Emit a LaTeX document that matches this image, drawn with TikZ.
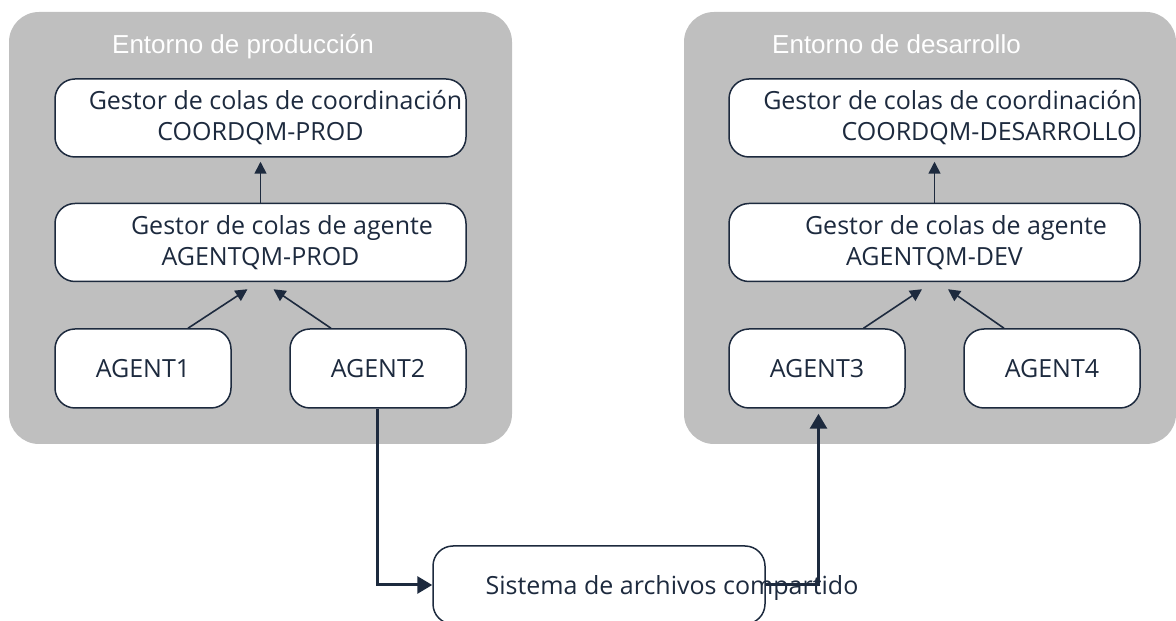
\documentclass[tikz,border=0pt]{standalone}
\usepackage{fontspec}
\setmainfont{Open Sans}
\newfontfamily\titlefont{Liberation Sans}
\usetikzlibrary{positioning,arrows.meta}
\definecolor{navy}{HTML}{1D2A3E}
\definecolor{envgray}{HTML}{BFBFBF}

\begin{document}
\begin{tikzpicture}[x=1pt,y=1pt,node distance=45pt and 59pt,
    envbox/.style={fill=envgray,rounded corners=30pt},
    envtitle/.style={anchor=base west,text=white,inner sep=0pt,
      font=\titlefont\fontsize{26}{30}\selectfont},
    qmbox/.style={draw=navy,line width=1.5pt,fill=white,rounded corners=20pt,
      minimum width=411pt,minimum height=78pt,inner sep=0pt,align=center,
      text=navy,font=\fontsize{25}{31}\selectfont},
    agentbox/.style={qmbox,minimum width=176pt,minimum height=79pt},
    link/.style={draw=navy,line width=1.6pt,shorten >=4pt,
      -{Triangle[length=12pt,width=12pt]}},
    copyline/.style={draw=navy,line width=3pt,
      -{Triangle[length=15pt,width=17pt]}}]

    \useasboundingbox (0,0) rectangle (1176,621);

    % Environments
    \fill[envbox] (9,177) rectangle (512,609);
    \fill[envbox] (684,177) rectangle (1176,609);
    \node[envtitle] (prodtitle) at (112,567) {Entorno de producción};
    \node[envtitle] (devtitle) at (772,567) {Entorno de desarrollo};

    % Production side
    \node[qmbox] (coordprod) at (260.5,503)
      {\hspace*{30pt}Gestor de colas de coordinación\\COORDQM-PROD};
    \node[qmbox, below=of coordprod] (agentqmprod)
      {\hspace*{43pt}Gestor de colas de agente\\AGENTQM-PROD};
    \node[agentbox, below right=46pt and 0pt of agentqmprod.south west] (agent1) {AGENT1};
    \node[agentbox, below left=46pt and 0pt of agentqmprod.south east] (agent2) {AGENT2};

    % Development side
    \node[qmbox] (coorddev) at (934.5,503)
      {\hspace*{31pt}Gestor de colas de coordinación\\\hspace*{109pt}COORDQM-DESARROLLO};
    \node[qmbox, below=of coorddev] (agentqmdev)
      {\hspace*{43pt}Gestor de colas de agente\\AGENTQM-DEV};
    \node[agentbox, below right=46pt and 0pt of agentqmdev.south west] (agent3) {AGENT3};
    \node[agentbox, below left=46pt and 0pt of agentqmdev.south east] (agent4) {AGENT4};

    % Shared file system
    \node[draw=navy,line width=1.5pt,rounded corners=20pt,minimum width=332pt,
      minimum height=78pt] (fsbox) at (599,36) {};
    \node[anchor=base,text=navy,font=\fontsize{25}{31}\selectfont,inner sep=0pt]
      (fstext) at (672,26) {Sistema de archivos compartido};

    % Set coordinates
    \coordinate[below=7pt of agentqmprod.south, xshift=-13pt] (prodin1);
    \coordinate[below=7pt of agentqmprod.south, xshift=13pt] (prodin2);
    \coordinate[below=7pt of agentqmdev.south, xshift=-12.5pt] (devin1);
    \coordinate[below=7pt of agentqmdev.south, xshift=13.5pt] (devin2);

    % Draw lines
    \draw[link] (agentqmprod.north) -- (coordprod.south);
    \draw[link] (agentqmdev.north) -- (coorddev.south);
    \draw[link,shorten >=0pt] ([xshift=45pt]agent1.north) -- (prodin1);
    \draw[link,shorten >=0pt] ([xshift=-47pt]agent2.north) -- (prodin2);
    \draw[link,shorten >=0pt] ([xshift=46.5pt]agent3.north) -- (devin1);
    \draw[link,shorten >=0pt] ([xshift=-48pt]agent4.north) -- (devin2);
    \draw[copyline] ([xshift=-1pt]agent2.south) |- (fsbox.west);
    \draw[copyline,shorten >=5pt] (fsbox.east) -| ([xshift=1.5pt]agent3.south);
  \end{tikzpicture}
\end{document}
